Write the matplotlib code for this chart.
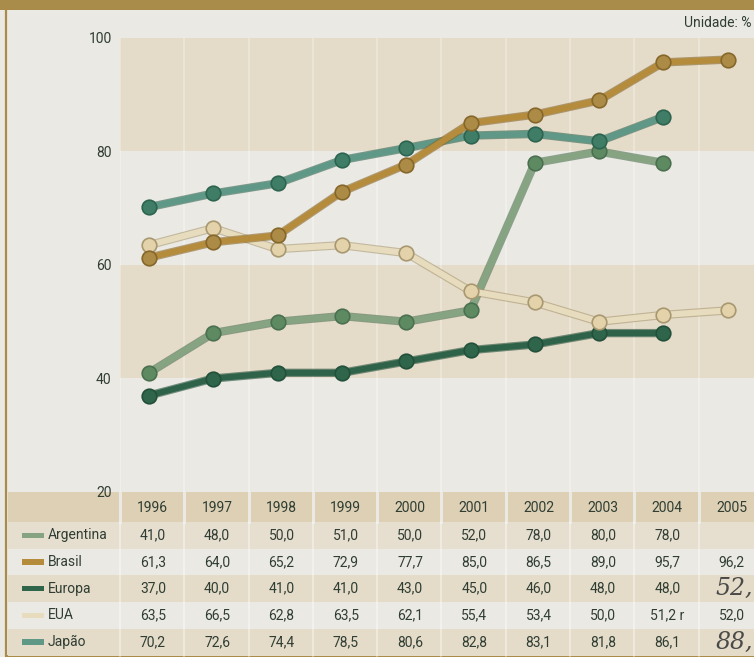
import matplotlib.pyplot as plt
import matplotlib.patheffects as pe
from matplotlib.patches import Rectangle

years = [1996, 1997, 1998, 1999, 2000, 2001, 2002, 2003, 2004, 2005]
series = ["Argentina", "Brasil", "Europa", "EUA", "Japão"]
argentina = [41.0, 48.0, 50.0, 51.0, 50.0, 52.0, 78.0, 80.0, 78.0, None]
brasil = [61.3, 64.0, 65.2, 72.9, 77.7, 85.0, 86.5, 89.0, 95.7, 96.2]
europa = [37.0, 40.0, 41.0, 41.0, 43.0, 45.0, 46.0, 48.0, 48.0, None]
eua = [63.5, 66.5, 62.8, 63.5, 62.1, 55.4, 53.4, 50.0, 51.2, 52.0]
japao = [70.2, 72.6, 74.4, 78.5, 80.6, 82.8, 83.1, 81.8, 86.1, None]
eua_notes = ["", "", "", "", "", "", "", "", " r", ""]
handwritten = {"Europa": "52,", "Japão": "88,"}
yticks = [20, 40, 60, 80, 100]

values = dict(zip(series, [argentina, brasil, europa, eua, japao]))
notes = {"EUA": eua_notes}

# line, marker face, marker edge
colors = {
    "Argentina": ("#87a482", "#5e8a62", "#4a7050"),
    "Brasil": ("#b58b3c", "#ab8b46", "#86672a"),
    "Europa": ("#2f6349", "#2f654a", "#22503a"),
    "EUA": ("#e8dcbf", "#e3d2aa", "#a89870"),
    "Japão": ("#5f9886", "#3f7d66", "#2d6450"),
}
draw_order = ["Europa", "Argentina", "EUA", "Japão", "Brasil"]

paper = "#ebe9e4"
beige = "#e4dbc9"
header_beige = "#ddd0b4"
gold = "#a98b4a"
text_col = "#2f3d33"

W, H = 754, 657
fig = plt.figure(figsize=(W / 100, H / 100), dpi=100)
fig.patch.set_facecolor(paper)
plt.rcParams["font.family"] = ["Roboto", "DejaVu Sans"]


def px_axes(x0, y0, x1, y1):
    return fig.add_axes([x0 / W, 1 - y1 / H, (x1 - x0) / W, (y1 - y0) / H])


# decorations (frame)
deco = px_axes(0, 0, W, H)
deco.set_xlim(0, W)
deco.set_ylim(H, 0)
deco.axis("off")
deco.set_zorder(0)
deco.add_patch(Rectangle((0, 0), W, 10, color=gold, lw=0))
deco.plot([6, 6], [10, 656], color=gold, lw=1.6)
deco.plot([6, W], [655.5, 655.5], color=gold, lw=2)
deco.text(751, 23, "Unidade: %", ha="right", va="center", fontsize=10, color=text_col)

unit = 64.3
x_left_main = -29 / unit
x_right = (W - 149) / unit
x_left_full = -149 / unit
xs = list(range(len(years)))

# chart
ax = px_axes(120, 38, W, 492)
ax.set_zorder(2)
ax.patch.set_visible(False)
ax.set_xlim(x_left_main, x_right)
ax.set_ylim(20, 100)
for lo in (40, 80):
    ax.axhspan(lo, lo + 20, color=beige, lw=0, zorder=0)
for k in range(len(years) + 1):
    ax.axvline(x_left_main + k, color="white", alpha=0.35, lw=1.2, zorder=0.5)

for name in draw_order:
    lc, mc, ec = colors[name]
    pts = [(x, v) for x, v in zip(xs, values[name]) if v is not None]
    px, py = zip(*pts)
    ax.plot(px, py, color=lc, lw=4.4, solid_capstyle="round", zorder=3,
            path_effects=[pe.withStroke(linewidth=6.0, foreground=ec, alpha=0.6)])
    ax.plot(px, py, ls="none", marker="o", ms=10.5, mfc=mc, mec=ec, mew=1.2, zorder=4)

ax.set_yticks(yticks)
ax.set_yticklabels([str(t) for t in yticks], fontsize=10, color=text_col)
ax.set_xticks([])
ax.tick_params(axis="y", length=0, pad=6)
for s in ax.spines.values():
    s.set_visible(False)

# table
tb = px_axes(0, 492, W, 657)
tb.set_zorder(1)
tb.patch.set_visible(False)
tb.set_xlim(x_left_full, x_right)
row_h = 26.7
header_h = 30 / row_h
tb.set_ylim(165 / row_h, 0)
tb.axis("off")

row_fill = [header_beige, "#e6dfd0", paper, beige, paper, beige]
tb.add_patch(Rectangle((x_left_full + 8 / unit, 0), x_right - x_left_full, header_h,
                       color=row_fill[0], lw=0))
for r in range(len(series)):
    tb.add_patch(Rectangle((x_left_full + 8 / unit, header_h + r), x_right - x_left_full, 1,
                           color=row_fill[r + 1], lw=0))
for k in range(len(years) + 1):
    tb.plot([x_left_main + k] * 2, [0, header_h], color=paper, lw=2.2)
    tb.plot([x_left_main + k] * 2, [header_h, header_h + len(series)], color="white",
            alpha=0.45, lw=1.2)

for x, yr in zip(xs, years):
    tb.text(x + 0.06, header_h * 0.55, str(yr), ha="center", va="center",
            fontsize=10, color=text_col)

for r, name in enumerate(series):
    yc = header_h + r + 0.5
    lc, mc, ec = colors[name]
    sw = lc if name != "Europa" else mc
    tb.add_patch(Rectangle((-127 / unit, yc - 0.1), 22 / unit, 0.2, color=sw, lw=0))
    tb.text(-101 / unit, yc, name, ha="left", va="center", fontsize=10, color=text_col)
    for x, v in enumerate(values[name]):
        if v is None:
            continue
        s = f"{v:.1f}".replace(".", ",") + notes.get(name, [""] * len(years))[x]
        tb.text(x + 0.06, yc, s, ha="center", va="center", fontsize=10, color=text_col)
    if name in handwritten:
        tb.text(len(years) - 1 + 0.1, yc, handwritten[name], ha="center", va="center",
                fontsize=17, color="#4a4a48", family="DejaVu Serif", style="italic")

fig.savefig("out.png", dpi=100, facecolor=fig.get_facecolor())
